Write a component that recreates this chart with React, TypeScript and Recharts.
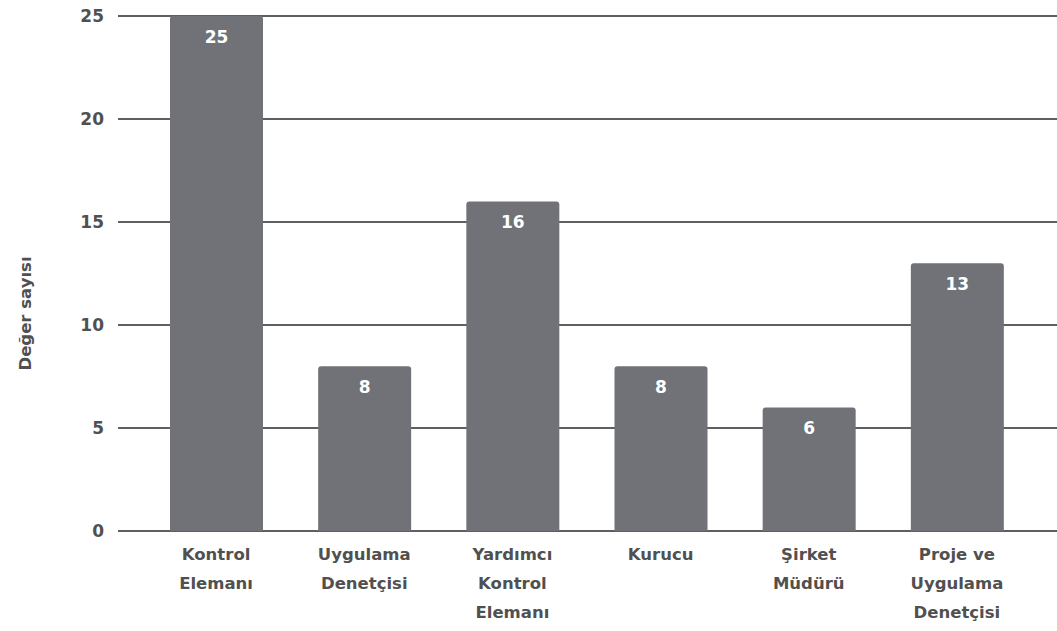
import { BarChart, Bar, XAxis, YAxis, CartesianGrid, LabelList, Label } from "recharts";

const categories = [
  "Kontrol Elemanı",
  "Uygulama Denetçisi",
  "Yardımcı Kontrol Elemanı",
  "Kurucu",
  "Şirket Müdürü",
  "Proje ve Uygulama Denetçisi",
];
const tickLines = [
  ["Kontrol", "Elemanı"],
  ["Uygulama", "Denetçisi"],
  ["Yardımcı", "Kontrol", "Elemanı"],
  ["Kurucu"],
  ["Şirket", "Müdürü"],
  ["Proje ve", "Uygulama", "Denetçisi"],
];
const counts = [25, 8, 16, 8, 6, 13];
const yTicks = [0, 5, 10, 15, 20, 25];

const data = categories.map((name, i) => ({ name, count: counts[i] }));

const FONT = "'DejaVu Sans', sans-serif";
const TEXT = "#505050";

const CategoryTick = (props: any) => {
  const { x, y, index } = props;
  const lines = tickLines[index] || [];
  return (
    <g transform={`translate(${x},${y})`}>
      {lines.map((l, i) => (
        <text
          key={i}
          x={0}
          y={i * 29 + 21}
          textAnchor="middle"
          fill={TEXT}
          fontSize={16.5}
          fontWeight={700}
          fontFamily={FONT}
        >
          {l}
        </text>
      ))}
    </g>
  );
};

const YLabel = (props: any) => {
  const { viewBox } = props;
  const cy = viewBox.y + viewBox.height / 2 + 40;
  return (
    <text
      x={25}
      y={cy}
      transform={`rotate(-90, 25, ${cy})`}
      textAnchor="middle"
      dominantBaseline="central"
      fill={TEXT}
      fontSize={16.5}
      fontWeight={700}
      fontFamily={FONT}
    >
      Değer sayısı
    </text>
  );
};

const App = () => {
  return (
    <div style={{ position: "absolute", left: 0, top: 0, background: "#fff" }}>
      <BarChart
        width={1057}
        height={631}
        data={data}
        margin={{ top: 16, right: 0, bottom: 0, left: 0 }}
      >
        <CartesianGrid vertical={false} stroke="#2a2a2a" strokeWidth={1.5} />
        <XAxis
          dataKey="name"
          axisLine={false}
          tickLine={false}
          tick={<CategoryTick />}
          interval={0}
          height={100}
          padding={{ left: 24, right: 26 }}
        />
        <YAxis
          domain={[0, 25]}
          ticks={yTicks}
          axisLine={false}
          tickLine={false}
          tickSize={6}
          tickMargin={8}
          width={118}
          tick={{ fill: TEXT, fontSize: 17, fontWeight: 700, fontFamily: FONT }}
        >
          <Label content={<YLabel />} />
        </YAxis>
        <Bar dataKey="count" fill="#707277" barSize={93} radius={[3, 3, 0, 0]} isAnimationActive={false}>
          <LabelList
            dataKey="count"
            position="insideTop"
            offset={15}
            fill="#fff"
            fontSize={17}
            fontWeight={700}
            fontFamily={FONT}
          />
        </Bar>
      </BarChart>
    </div>
  );
};

export default App;
